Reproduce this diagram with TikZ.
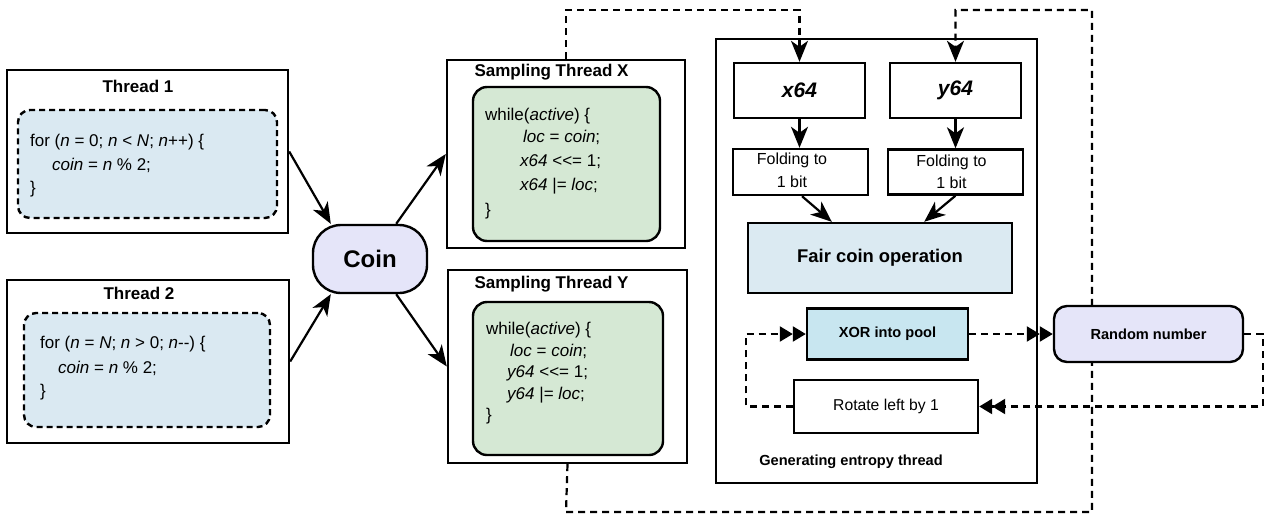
\documentclass[tikz,border=0pt]{standalone}
\usepackage{fontspec}
\setmainfont{Liberation Sans}
\usetikzlibrary{arrows.meta}
\pgfdeclarelayer{bg}
\pgfsetlayers{bg,main}

\definecolor{thrbg}{RGB}{218,233,242}
\definecolor{smpbg}{RGB}{213,232,212}
\definecolor{lav}{RGB}{229,229,249}
\definecolor{fairbg}{RGB}{219,234,242}
\definecolor{xorbg}{RGB}{200,230,240}

\newcommand\fsz[1]{\fontsize{#1pt}{#1pt}\selectfont}

\begin{document}
\begin{tikzpicture}[x=1pt,y=-1pt,
  box/.style={draw, line width=2.4pt, inner sep=0pt},
  dashbox/.style={box, dash pattern=on 6pt off 4pt, rounded corners=12pt, fill=thrbg},
  greenbox/.style={box, rounded corners=14pt, fill=smpbg},
  code/.style={anchor=base west, inner sep=0pt, font=\fsz{17}},
  title/.style={anchor=base, inner sep=0pt, font=\fsz{17}\bfseries},
  lbl/.style={anchor=base, inner sep=0pt},
  flow/.style={line width=2.2pt, -{Stealth[length=21pt,width=17pt,inset=6pt]}},
  route/.style={line width=2.2pt, dash pattern=on 7pt off 5pt},
  rtip/.style={-{Stealth[length=21pt,width=17pt,inset=6pt]}},
  dbl/.style={-{Triangle[length=13pt,width=15pt]Triangle[length=13pt,width=15pt]}}
]
\useasboundingbox (0,0) rectangle (1266,520);

% ---- producer threads ----
\node[box, minimum width=281pt, minimum height=163pt] (t1) at (147.5,151.5) {};
\node[dashbox, minimum width=259pt, minimum height=108pt] (t1in) at (147.5,164) {};
\node[title] (t1t) at (138,92) {Thread 1};
\node[code] (t1a) at (30,146) {for (\textit{n} = 0; \textit{n} < \textit{N}; \textit{n}++) \{};
\node[code] (t1b) at (52,170) {\textit{coin} = \textit{n} \% 2;};
\node[code] (t1c) at (30,193) {\}};

\node[box, minimum width=282pt, minimum height=163pt] (t2) at (148,361.5) {};
\node[dashbox, minimum width=246pt, minimum height=114pt] (t2in) at (147,370) {};
\node[title] (t2t) at (139,299) {Thread 2};
\node[code] (t2a) at (40,348) {for (\textit{n} = \textit{N}; \textit{n} > 0; \textit{n}{-}{-}) \{};
\node[code] (t2b) at (58,373) {\textit{coin} = \textit{n} \% 2;};
\node[code] (t2c) at (40,396) {\}};

% ---- shared coin ----
\node[box, fill=lav, rounded corners=28pt, minimum width=114pt, minimum height=68pt,
      font=\fsz{24}\bfseries] (coin) at (370,259) {Coin};

% ---- sampling threads ----
\node[box, minimum width=238pt, minimum height=188pt] (sx) at (566,154) {};
\node[greenbox, minimum width=187pt, minimum height=154pt] (sxin) at (566.5,164) {};
\node[title] (sxt) at (551.5,76) {Sampling Thread X};
\node[code] (sxa) at (485,120) {while(\textit{active}) \{};
\node[code] (sxb) at (523,142) {\textit{loc} = \textit{coin};};
\node[code] (sxc) at (520,166) {\textit{x64} {<}{<}= 1;};
\node[code] (sxd) at (520,190) {\textit{x64} |= \textit{loc};};
\node[code] (sxe) at (485,215) {\}};

\node[box, minimum width=239pt, minimum height=193pt] (sy) at (567.5,366.5) {};
\node[greenbox, minimum width=190pt, minimum height=153pt] (syin) at (568,378.5) {};
\node[title] (syt) at (551.5,288) {Sampling Thread Y};
\node[code] (sya) at (486,334) {while(\textit{active}) \{};
\node[code] (syb) at (510,356) {\textit{loc} = \textit{coin};};
\node[code] (syc) at (507,377) {\textit{y64} {<}{<}= 1;};
\node[code] (syd) at (507,399) {\textit{y64} |= \textit{loc};};
\node[code] (sye) at (486,420) {\}};

% ---- entropy generating thread ----
\node[box, minimum width=321pt, minimum height=444pt] (gen) at (876.5,261) {};
\node[lbl, font=\fsz{14.6}\bfseries] (gent) at (851,465) {Generating entropy thread};

\node[box, minimum width=131pt, minimum height=55pt, font=\fsz{21}\bfseries\itshape] (x64) at (799.5,90.5) {x64};
\node[box, minimum width=131pt, minimum height=55pt, font=\fsz{21}\bfseries\itshape] (y64) at (955.5,90.5) {y64};

\node[box, minimum width=135pt, minimum height=46pt] (fx) at (800.5,172) {};
\node[lbl, font=\fsz{16}] (fxa) at (792,164) {Folding to};
\node[lbl, font=\fsz{16}] (fxb) at (792,187) {1 bit};
\node[box, minimum width=135pt, minimum height=45pt] (fy) at (955.5,172) {};
\node[lbl, font=\fsz{16}] (fya) at (951.5,166) {Folding to};
\node[lbl, font=\fsz{16}] (fyb) at (951.5,188) {1 bit};

\node[box, fill=fairbg, minimum width=264pt, minimum height=70pt, font=\fsz{18.4}\bfseries] (fair) at (880,258) {Fair coin operation};

\node[box, fill=xorbg, minimum width=161pt, minimum height=51pt, font=\fsz{14.6}\bfseries] (xor) at (887.5,334) {XOR into pool};
\node[box, minimum width=184pt, minimum height=53pt, font=\fsz{15.7}] (rot) at (886,406.5) {Rotate left by 1};

\node[box, fill=lav, rounded corners=13pt, minimum width=189pt, minimum height=56pt, font=\fsz{14.6}\bfseries] (rnd) at (1148.5,334) {Random number};

% ---- route corners ----
\coordinate (xtop) at (566,10);
\coordinate (ybot) at (566,512);
\coordinate (rbot) at (1092,512);
\coordinate (rtop) at (1092,10);
\coordinate (rr) at (1263,334);
\coordinate (ll) at (746,406.5);

% ---- connectors ----
\draw[flow] (t1.east) -- ([xshift=19pt]coin.north west);
\draw[flow] (t2.east) -- ([xshift=19pt]coin.south west);
\draw[flow] ([xshift=-32pt]coin.north east) -- (sx.west);
\draw[flow] ([xshift=-32pt]coin.south east) -- (sy.west);

\draw[flow] (x64.south) -- (x64.south |- fx.north);
\draw[flow] (y64.south) -- (y64.south |- fy.north);
\draw[flow] ([xshift=1.5pt]fx.south) -- ([xshift=85pt]fair.north west);
\draw[flow] (fy.south) -- ([xshift=-89pt]fair.north east);

\begin{pgfonlayer}{bg}
\draw[route, rtip] (sx.north) -- (xtop) -| (x64.north);
\draw[route, rtip] (sy.south) -- (ybot) -- (rbot) -- (rtop) -| (y64.north);
\draw[route, dbl] (xor.east) -- (rnd.west);
\draw[route, dbl] (rnd.east) -- (rr) |- (rot.east);
\draw[route, dbl] (rot.west) -- (ll) |- (xor.west);
\end{pgfonlayer}
\end{tikzpicture}
\end{document}
